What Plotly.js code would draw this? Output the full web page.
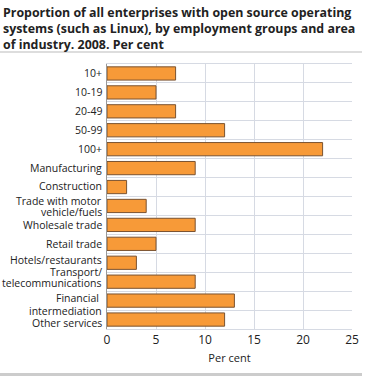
<!DOCTYPE html>
<html><head><meta charset="utf-8">
<script src="https://cdn.plot.ly/plotly-3.0.1.min.js"></script>
<style>body{margin:0;padding:0;background:#fff}#chart{width:366px;height:376px}</style>
</head><body><div id="chart"></div>
<script>
const titleLines = ["Proportion of all enterprises with open source operating","systems (such as Linux), by employment groups and area","of industry. 2008. Per cent"];
const categories = ["10+","10-19","20-49","50-99","100+","Manufacturing","Construction","Trade with motor vehicle/fuels","Wholesale trade","Retail trade","Hotels/restaurants","Transport/ telecommunications","Financial intermediation","Other services"];
const labelLines = [["10+"],["10-19"],["20-49"],["50-99"],["100+"],["Manufacturing"],["Construction"],["Trade with motor","vehicle/fuels"],["Wholesale trade"],["Retail trade"],["Hotels/restaurants"],["Transport/","telecommunications"],["Financial ","intermediation"],["Other services"]];
const values = [7,5,7,12,22,9,2,4,9,5,3,9,13,12];
const xTicks = [0,5,10,15,20,25];
const xTitle = "Per cent";

// label vertical nudges (px, positive = up), styling only
const labelShift = [[0],[0],[0],[0],[0],[0],[1.5],[5,-6],[0],[0],[2.5],[9.5,-1.5],[2.3,-10],[-3]];

const L=107, R=14, T=64, B=47, W=366, H=376;
const pw=W-L-R, ph=H-T-B;
const px=x=>(x-L)/pw, py=y=>1-(y-T)/ph;
const FONT='Open Sans, sans-serif';

const annotations=[];
categories.forEach((c,i)=>{
  labelLines[i].forEach((t,j)=>{
    annotations.push({xref:'paper', yref:'y', x:0, y:c, text:t, showarrow:false, xanchor:'right', yanchor:'middle', xshift:-3, yshift:labelShift[i][j], font:{family:FONT, size:10.5, color:'#222'}});
  });
});
titleLines.forEach((t,j)=>{
  annotations.push({xref:'paper', yref:'paper', x:px(1), y:py(12+16*j), text:'<b>'+t+'</b>', showarrow:false, xanchor:'left', yanchor:'middle', font:{family:FONT, size:12.4, color:'#222'}});
});

Plotly.newPlot('chart',[{
  type:'bar', orientation:'h', x:values, y:categories,
  marker:{color:'#F79A38', line:{color:'#7a5230', width:1}},
  hoverinfo:'none'
}],{
  width:W, height:H, margin:{l:L,r:R,t:T,b:B}, bargap:0.3,
  font:{family:FONT, size:11, color:'#222'},
  paper_bgcolor:'#fff', plot_bgcolor:'#fff', showlegend:false,
  xaxis:{range:[0,25], tickvals:xTicks, ticktext:xTicks.map(String), showgrid:true, gridcolor:'#d6dae3', zeroline:false, showline:true, linecolor:'#d6dae3', mirror:true, ticks:'', title:{text:xTitle, font:{size:11}, standoff:6}, tickfont:{size:12}},
  yaxis:{type:'category', categoryorder:'array', categoryarray:categories, autorange:'reversed', tickson:'boundaries', showgrid:true, gridcolor:'#d6dae3', showline:true, linecolor:'#999', ticks:'', showticklabels:false},
  annotations:annotations,
  shapes:[
    {type:'line', xref:'paper', yref:'paper', x0:px(0), x1:px(362), y0:py(52), y1:py(52), line:{color:'#bbb', width:1}},
    {type:'line', xref:'paper', yref:'paper', x0:px(0), x1:px(362), y0:py(374.5), y1:py(374.5), line:{color:'#ccc', width:3}}
  ]
},{displayModeBar:false, staticPlot:true});
</script></body></html>
